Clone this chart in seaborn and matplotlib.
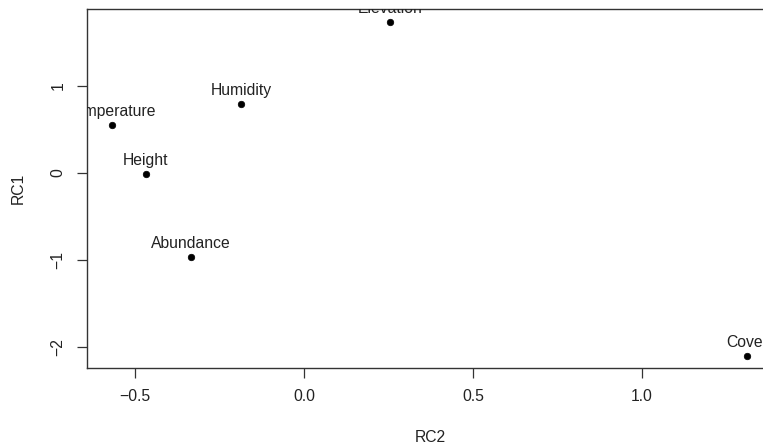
import matplotlib
matplotlib.use("Agg")
import matplotlib.pyplot as plt
import pandas as pd
import seaborn as sns

variables = ["Elevation", "Humidity", "Temperature", "Height", "Abundance", "Cover"]
rc2 = [0.254, -0.186, -0.569, -0.468, -0.334, 1.310]
rc1 = [1.738, 0.797, 0.552, -0.008, -0.970, -2.102]
x_ticks = [-0.5, 0.0, 0.5, 1.0]
y_ticks = [-2, -1, 0, 1]

df = pd.DataFrame({"variable": variables, "RC2": rc2, "RC1": rc1})

sns.set_style("ticks")
plt.rcParams["font.family"] = ["Liberation Sans", "DejaVu Sans"]
plt.rcParams["font.size"] = 11.3

fig = plt.figure(figsize=(7.63, 4.47), dpi=100)
# axes run slightly past the right edge, as in the cropped original
ax = fig.add_axes([86.5 / 763, (447 - 368) / 447, (773.5 - 86.5) / 763, (368 - 9) / 447])

sns.scatterplot(data=df, x="RC2", y="RC1", ax=ax, color="black", s=22,
                edgecolor="black", linewidth=0.5, legend=False)

for _, row in df.iterrows():
    ax.annotate(row["variable"], (row["RC2"], row["RC1"]), xytext=(0, 6.5),
                textcoords="offset points", ha="center", va="baseline",
                color="#222222", clip_on=True, annotation_clip=False)

ax.set_xlim(-0.6435, 1.389)
ax.set_ylim(-2.244, 1.887)
ax.set_xticks(x_ticks)
ax.set_xticklabels([f"{v:.1f}".replace("-", "\u2212") for v in x_ticks])
ax.set_yticks(y_ticks)
ax.set_yticklabels([str(v).replace("-", "\u2212") for v in y_ticks], rotation=90, va="center")
ax.tick_params(direction="out", length=7.2, width=0.9, color="#333333",
               labelcolor="#222222", pad=8)
for sp in ax.spines.values():
    sp.set_visible(True)
    sp.set_color("#333333")
    sp.set_linewidth(1.0)

ax.set_xlabel("RC2", color="#222222", labelpad=19)
ax.set_ylabel("RC1", color="#222222", labelpad=18)

fig.savefig("out.png", dpi=100)
